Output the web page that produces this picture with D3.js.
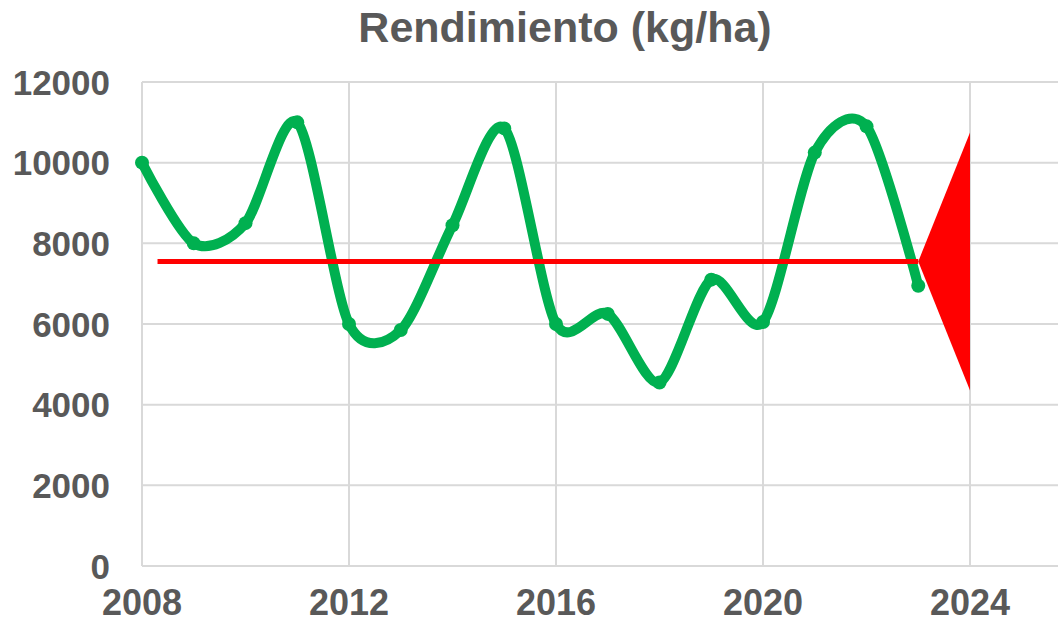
<!DOCTYPE html>
<html lang="es">
<head>
<meta charset="UTF-8">
<title>Rendimiento (kg/ha)</title>
<script src="https://d3js.org/d3.v7.min.js"></script>
<style>
  html, body { margin: 0; padding: 0; background: #fff; }
  svg { display: block; }
  .grid line { stroke: #d9d9d9; stroke-width: 2px; }
  .tick-label { font: bold 35px "Liberation Sans", Arial, sans-serif; fill: #595959; }
  .x-label { font-size: 36px; }
  .title { font: bold 43px "Liberation Sans", Arial, sans-serif; fill: #595959; }
</style>
</head>
<body>
<script>
  const width = 1058;
  const height = 623;

  // yearly yield
  const years = [2008, 2009, 2010, 2011, 2012, 2013, 2014, 2015, 2016, 2017, 2018, 2019, 2020, 2021, 2022, 2023];
  const yields = [10000, 8000, 8500, 11000, 6000, 5850, 8450, 10850, 6000, 6250, 4550, 7100, 6050, 10250, 10900, 6950];

  // red reference line and forecast wedge
  const refLine = [[2008.3, 7550], [2023, 7550]];
  const wedge = [[2023, 7550], [2024, 10750], [2024, 4350]];

  const xTicks = [2008, 2012, 2016, 2020, 2024];
  const yTicks = [0, 2000, 4000, 6000, 8000, 10000, 12000];

  const x = d3.scaleLinear().domain([2008, 2025.7]).range([142, 1058]);
  const y = d3.scaleLinear().domain([0, 12000]).range([566, 82]);

  const svg = d3.select("body").append("svg")
    .attr("width", width)
    .attr("height", height);

  const grid = svg.append("g").attr("class", "grid");
  grid.selectAll(".h").data(yTicks).enter().append("line")
    .attr("x1", x(2008)).attr("x2", width)
    .attr("y1", d => y(d)).attr("y2", d => y(d));
  grid.selectAll(".v").data(xTicks).enter().append("line")
    .attr("x1", d => x(d)).attr("x2", d => x(d))
    .attr("y1", y(12000)).attr("y2", y(0));

  svg.append("g").selectAll("text").data(yTicks).enter().append("text")
    .attr("class", "tick-label")
    .attr("x", 110)
    .attr("y", d => y(d))
    .attr("dy", "0.36em")
    .attr("text-anchor", "end")
    .text(d => d);

  svg.append("g").selectAll("text").data(xTicks).enter().append("text")
    .attr("class", "tick-label x-label")
    .attr("x", d => x(d))
    .attr("y", 615)
    .attr("text-anchor", "middle")
    .text(d => d);

  svg.append("text")
    .attr("class", "title")
    .attr("x", 565)
    .attr("y", 42)
    .attr("text-anchor", "middle")
    .text("Rendimiento (kg/ha)");

  const pts = years.map((yr, i) => [yr, yields[i]]);

  const line = d3.line()
    .x(d => x(d[0]))
    .y(d => y(d[1]))
    .curve(d3.curveCardinal.tension(0.15));

  svg.append("path")
    .datum(pts)
    .attr("d", line)
    .attr("fill", "none")
    .attr("stroke", "#00b050")
    .attr("stroke-width", 10)
    .attr("stroke-linejoin", "round")
    .attr("stroke-linecap", "round");

  svg.append("g").selectAll("circle").data(pts).enter().append("circle")
    .attr("cx", d => x(d[0]))
    .attr("cy", d => y(d[1]))
    .attr("r", 7)
    .attr("fill", "#00b050");

  svg.append("path")
    .datum(refLine)
    .attr("d", d3.line().x(d => x(d[0])).y(d => y(d[1])))
    .attr("stroke", "#ff0000")
    .attr("stroke-width", 5)
    .attr("fill", "none");

  svg.append("path")
    .datum(wedge)
    .attr("d", d => d3.line().x(p => x(p[0])).y(p => y(p[1]))(d) + "Z")
    .attr("fill", "#ff0000");
</script>
</body>
</html>
